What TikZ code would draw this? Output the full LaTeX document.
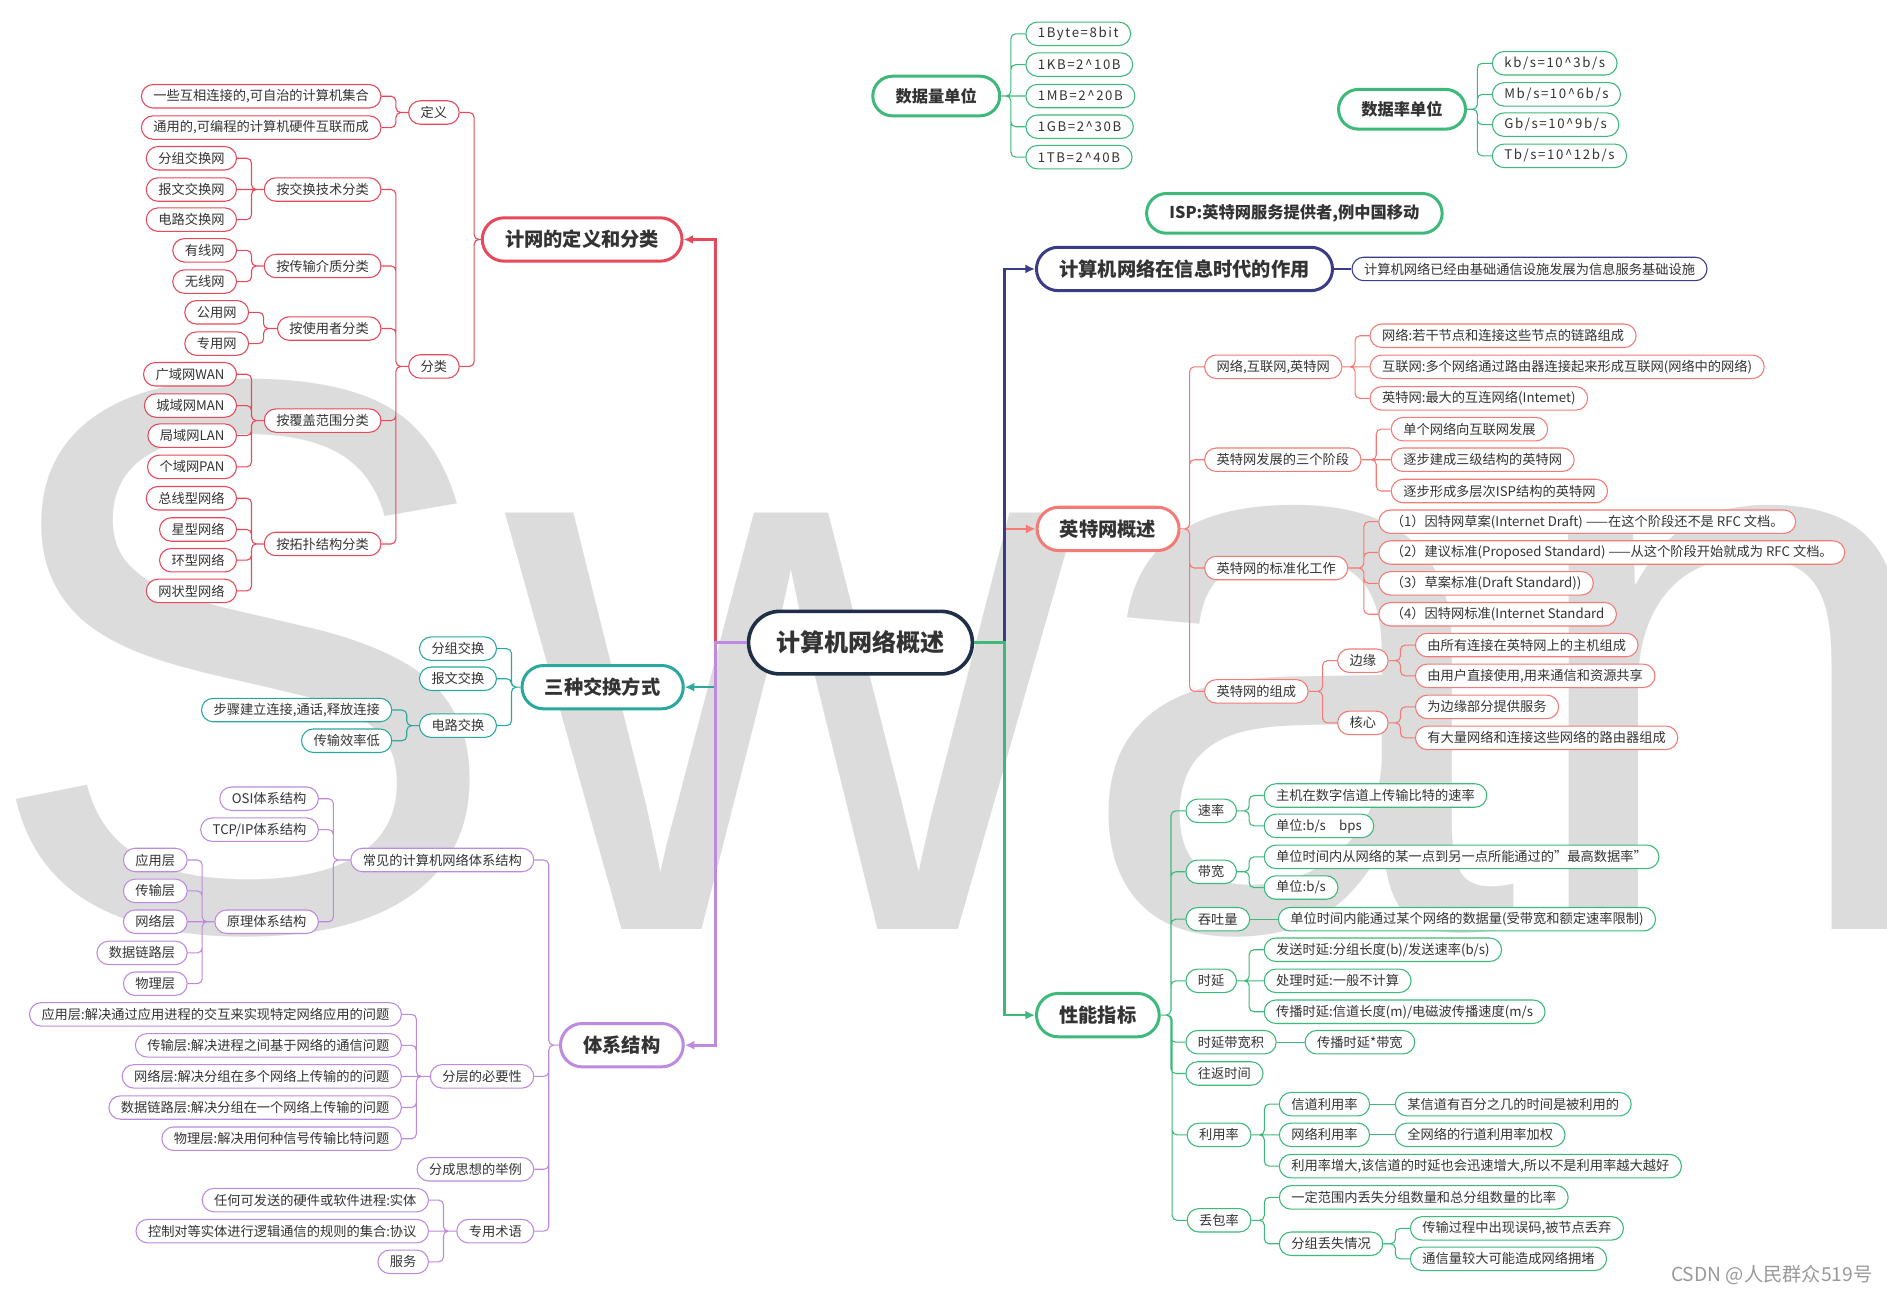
\documentclass[tikz,border=0pt]{standalone}
\usepackage{fontspec}
\setmainfont{Noto Sans CJK SC}
\newfontfamily\wmfont{Liberation Sans}
\usetikzlibrary{arrows.meta}

\definecolor{txt}{HTML}{333333}
\definecolor{rootc}{HTML}{1F2F46}
\definecolor{redc}{HTML}{E5495A}
\definecolor{tealc}{HTML}{2AA89C}
\definecolor{purc}{HTML}{BE8AE0}
\definecolor{navyc}{HTML}{3A3D86}
\definecolor{salc}{HTML}{F47A76}
\definecolor{grnc}{HTML}{3DB97A}
\definecolor{wmc}{HTML}{DCDCDC}

\begin{document}
\begin{tikzpicture}[x=1pt, y=-1pt,
    root/.style={draw=rootc, line width=3pt, fill=white, rounded corners=26pt,
      minimum height=52pt, inner xsep=23pt, inner ysep=0pt, text=txt,
      font=\bfseries\fontsize{20}{20}\selectfont},
    topic/.style={draw=#1, line width=2.5pt, fill=white, rounded corners=18pt,
      minimum height=36pt, inner xsep=19pt, inner ysep=0pt, text=txt,
      font=\bfseries\fontsize{16}{16}\selectfont},
    unit/.style={topic=grnc, rounded corners=16.5pt, minimum height=33pt,
      font=\bfseries\fontsize{13.5}{13.5}\selectfont},
    leaf/.style={draw=#1, line width=0.9pt, fill=white, rounded corners=9.75pt,
      minimum height=19.5pt, inner xsep=10pt, inner ysep=0pt, text=txt,
      font=\fontsize{11}{11}\selectfont},
    unitleaf/.style={leaf=grnc, font=\fontsize{11}{11}\selectfont\addfontfeature{LetterSpace=12}},
    br/.style={draw=#1, line width=2.2pt, -{Latex[length=8pt,width=7.5pt]}},
    lnk/.style={draw=#1, line width=0.9pt, rounded corners=4pt},
    lt/.style={to path={-| ([xshift=12pt]\tikztotarget) -- (\tikztotarget)}},
    rt/.style={to path={-| ([xshift=-12pt]\tikztotarget) -- (\tikztotarget)}}]

\useasboundingbox (0,0) rectangle (1568,1075);
\clip (0,0) rectangle (1568,1075);
\fill[white] (0,0) rectangle (1568,1075);

% watermarks
\node[anchor=base west, inner sep=0pt, text=wmc,
  font=\wmfont\fontsize{655}{655}\selectfont] (wm) at (-16,772) {Swan};
\node[anchor=east, inner sep=0pt, text=black!40,
  font=\fontsize{16}{16}\selectfont] (csdn) at (1556,1059.5) {CSDN @人民群众519号};

% centre
\node[root] (root) at (715,534) {计算机网络概述};

% definition and classes
\node[topic=redc, anchor=east] (defcls) at (568,199) {计网的定义和分类};
\node[leaf=redc, anchor=east] (define) at (382,93.5) {定义};
\node[leaf=redc, anchor=east] (classify) at (382,304.5) {分类};
\node[leaf=redc, anchor=east] (def1) at (317,80) {一些互相连接的,可自治的计算机集合};
\node[leaf=redc, anchor=east] (def2) at (317,106) {通用的,可编程的计算机硬件互联而成};
\node[leaf=redc, anchor=east] (bysw) at (317,157.5) {按交换技术分类};
\node[leaf=redc, anchor=east] (sw1) at (197,131.5) {分组交换网};
\node[leaf=redc, anchor=east] (sw2) at (197,157.5) {报文交换网};
\node[leaf=redc, anchor=east] (sw3) at (197,182.5) {电路交换网};
\node[leaf=redc, anchor=east] (bymd) at (317,221) {按传输介质分类};
\node[leaf=redc, anchor=east] (md1) at (197,208) {有线网};
\node[leaf=redc, anchor=east] (md2) at (197,234) {无线网};
\node[leaf=redc, anchor=east] (byus) at (317,273) {按使用者分类};
\node[leaf=redc, anchor=east] (us1) at (207,259.5) {公用网};
\node[leaf=redc, anchor=east] (us2) at (207,285.5) {专用网};
\node[leaf=redc, anchor=east] (bycv) at (317,349.5) {按覆盖范围分类};
\node[leaf=redc, anchor=east] (cv1) at (197,311) {广域网WAN};
\node[leaf=redc, anchor=east] (cv2) at (197,337) {城域网MAN};
\node[leaf=redc, anchor=east] (cv3) at (197,362) {局域网LAN};
\node[leaf=redc, anchor=east] (cv4) at (197,388) {个域网PAN};
\node[leaf=redc, anchor=east] (bytp) at (317,452) {按拓扑结构分类};
\node[leaf=redc, anchor=east] (tp1) at (197,414) {总线型网络};
\node[leaf=redc, anchor=east] (tp2) at (197,440) {星型网络};
\node[leaf=redc, anchor=east] (tp3) at (197,465.5) {环型网络};
\node[leaf=redc, anchor=east] (tp4) at (197,491) {网状型网络};

% switching
\node[topic=tealc, anchor=east] (switch) at (569,571) {三种交换方式};
\node[leaf=tealc, anchor=east] (pkt) at (413,539) {分组交换};
\node[leaf=tealc, anchor=east] (msg) at (413,564) {报文交换};
\node[leaf=tealc, anchor=east] (cir) at (413,603) {电路交换};
\node[leaf=tealc, anchor=east] (cir1) at (326,590) {步骤建立连接,通话,释放连接};
\node[leaf=tealc, anchor=east] (cir2) at (326,615.5) {传输效率低};

% architecture
\node[topic=purc, anchor=east] (arch) at (569,868.5) {体系结构};
\node[leaf=purc, anchor=east] (common) at (444,714.6) {常见的计算机网络体系结构};
\node[leaf=purc, anchor=east] (osi) at (265,663.7) {OSI体系结构};
\node[leaf=purc, anchor=east] (tcpip) at (265,689.4) {TCP/IP体系结构};
\node[leaf=purc, anchor=east] (theory) at (265,765.9) {原理体系结构};
\node[leaf=purc, anchor=east] (ly1) at (156,714.6) {应用层};
\node[leaf=purc, anchor=east] (ly2) at (156,740.3) {传输层};
\node[leaf=purc, anchor=east] (ly3) at (156,765.9) {网络层};
\node[leaf=purc, anchor=east] (ly4) at (156,791.8) {数据链路层};
\node[leaf=purc, anchor=east] (ly5) at (156,817.4) {物理层};
\node[leaf=purc, anchor=east] (layer) at (444,894.4) {分层的必要性};
\node[leaf=purc, anchor=east] (layer1) at (334,842.9) {应用层:解决通过应用进程的交互来实现特定网络应用的问题};
\node[leaf=purc, anchor=east] (layer2) at (334,868.6) {传输层:解决进程之间基于网络的通信问题};
\node[leaf=purc, anchor=east] (layer3) at (334,894.4) {网络层:解决分组在多个网络上传输的的问题};
\node[leaf=purc, anchor=east] (layer4) at (334,920.3) {数据链路层:解决分组在一个网络上传输的问题};
\node[leaf=purc, anchor=east] (layer5) at (334,946.2) {物理层:解决用何种信号传输比特问题};
\node[leaf=purc, anchor=east] (idea) at (444,971.6) {分成思想的举例};
\node[leaf=purc, anchor=east] (term) at (444,1023) {专用术语};
\node[leaf=purc, anchor=east] (term1) at (356.5,997.2) {任何可发送的硬件或软件进程:实体};
\node[leaf=purc, anchor=east] (term2) at (356.5,1023) {控制对等实体进行逻辑通信的规则的集合:协议};
\node[leaf=purc, anchor=east] (term3) at (356.5,1048.5) {服务};

% units and isp
\node[unit, anchor=west] (dsize) at (724,79.8) {数据量单位};
\node[unitleaf, anchor=west] (dsize1) at (852,28.1) {1Byte=8bit};
\node[unitleaf, anchor=west] (dsize2) at (852,53.7) {1KB=2\textasciicircum10B};
\node[unitleaf, anchor=west] (dsize3) at (852,79.8) {1MB=2\textasciicircum20B};
\node[unitleaf, anchor=west] (dsize4) at (852,105.3) {1GB=2\textasciicircum30B};
\node[unitleaf, anchor=west] (dsize5) at (852,130.6) {1TB=2\textasciicircum40B};
\node[unit, anchor=west] (drate) at (1111,90.8) {数据率单位};
\node[unitleaf, anchor=west] (drate1) at (1239.6,52.6) {kb/s=10\textasciicircum3b/s};
\node[unitleaf, anchor=west] (drate2) at (1239.6,78.4) {Mb/s=10\textasciicircum6b/s};
\node[unitleaf, anchor=west] (drate3) at (1239.6,103.6) {Gb/s=10\textasciicircum9b/s};
\node[unitleaf, anchor=west] (drate4) at (1239.6,129.5) {Tb/s=10\textasciicircum12b/s};
\node[unit, anchor=west] (isp) at (951.5,177.3) {ISP:英特网服务提供者,例中国移动};

% role
\node[topic=navyc, anchor=west] (role) at (860,223.5) {计算机网络在信息时代的作用};
\node[leaf=navyc, anchor=west] (role1) at (1123,223.5) {计算机网络已经由基础通信设施发展为信息服务基础设施};

% internet overview
\node[topic=salc, anchor=west] (inet) at (860.5,439.5) {英特网概述};
\node[leaf=salc, anchor=west] (nets) at (1000.5,304.8) {网络,互联网,英特网};
\node[leaf=salc, anchor=west] (nets1) at (1138,279) {网络:若干节点和连接这些节点的链路组成};
\node[leaf=salc, anchor=west] (nets2) at (1138,304.8) {互联网:多个网络通过路由器连接起来形成互联网(网络中的网络)};
\node[leaf=salc, anchor=west] (nets3) at (1138,331) {英特网:最大的互连网络(Intemet)};
\node[leaf=salc, anchor=west] (stage) at (1000.5,382) {英特网发展的三个阶段};
\node[leaf=salc, anchor=west] (stage1) at (1155.6,356.6) {单个网络向互联网发展};
\node[leaf=salc, anchor=west] (stage2) at (1155.6,382) {逐步建成三级结构的英特网};
\node[leaf=salc, anchor=west] (stage3) at (1155.6,408) {逐步形成多层次ISP结构的英特网};
\node[leaf=salc, anchor=west] (std) at (1000.5,472) {英特网的标准化工作};
\node[leaf=salc, anchor=west] (std1) at (1145.3,433.5) {（1）因特网草案(Internet Draft) ——在这个阶段还不是 RFC 文档。};
\node[leaf=salc, anchor=west] (std2) at (1145.3,459.1) {（2）建议标准(Proposed Standard) ——从这个阶段开始就成为 RFC 文档。};
\node[leaf=salc, anchor=west] (std3) at (1145.3,484.7) {（3）草案标准(Draft Standard))};
\node[leaf=salc, anchor=west] (std4) at (1145.3,510.4) {（4）因特网标准(Internet Standard};
\node[leaf=salc, anchor=west] (comp) at (1000.5,574.5) {英特网的组成};
\node[leaf=salc, anchor=west] (edge) at (1111,549) {边缘};
\node[leaf=salc, anchor=west] (core) at (1111,600.7) {核心};
\node[leaf=salc, anchor=west] (edge1) at (1175.7,536) {由所有连接在英特网上的主机组成};
\node[leaf=salc, anchor=west] (edge2) at (1175.7,561.6) {由用户直接使用,用来通信和资源共享};
\node[leaf=salc, anchor=west] (core1) at (1175.7,587.4) {为边缘部分提供服务};
\node[leaf=salc, anchor=west] (core2) at (1175.7,613.1) {有大量网络和连接这些网络的路由器组成};

% performance
\node[topic=grnc, anchor=west] (perf) at (860,843.5) {性能指标};
\node[leaf=grnc, anchor=west] (rate) at (985,673.8) {速率};
\node[leaf=grnc, anchor=west] (rate1) at (1050,661) {主机在数字信道上传输比特的速率};
\node[leaf=grnc, anchor=west] (rate2) at (1050,686.3) {单位:b/s\quad bps};
\node[leaf=grnc, anchor=west] (bw) at (985,724.4) {带宽};
\node[leaf=grnc, anchor=west] (bw1) at (1050,712) {单位时间内从网络的某一点到另一点所能通过的"最高数据率"};
\node[leaf=grnc, anchor=west] (bw2) at (1050,737.5) {单位:b/s};
\node[leaf=grnc, anchor=west] (thru) at (985,763.8) {吞吐量};
\node[leaf=grnc, anchor=west] (thru1) at (1061.8,763.8) {单位时间内能通过某个网络的数据量(受带宽和额定速率限制)};
\node[leaf=grnc, anchor=west] (delay) at (985,815) {时延};
\node[leaf=grnc, anchor=west] (delay1) at (1050,789.2) {发送时延:分组长度(b)/发送速率(b/s)};
\node[leaf=grnc, anchor=west] (delay2) at (1050,815) {处理时延:一般不计算};
\node[leaf=grnc, anchor=west] (delay3) at (1050,840.7) {传播时延:信道长度(m)/电磁波传播速度(m/s};
\node[leaf=grnc, anchor=west] (dbp) at (985,866) {时延带宽积};
\node[leaf=grnc, anchor=west] (dbp1) at (1084,866) {传播时延*带宽};
\node[leaf=grnc, anchor=west] (rtt) at (985,892) {往返时间};
\node[leaf=grnc, anchor=west] (util) at (986,943) {利用率};
\node[leaf=grnc, anchor=west] (util1) at (1062.6,917.5) {信道利用率};
\node[leaf=grnc, anchor=west] (util1a) at (1159,917.5) {某信道有百分之几的时间是被利用的};
\node[leaf=grnc, anchor=west] (util2) at (1062.6,943) {网络利用率};
\node[leaf=grnc, anchor=west] (util2a) at (1159,943) {全网络的行道利用率加权};
\node[leaf=grnc, anchor=west] (util3) at (1062.6,969) {利用率增大,该信道的时延也会迅速增大,所以不是利用率越大越好};
\node[leaf=grnc, anchor=west] (loss) at (986,1014) {丢包率};
\node[leaf=grnc, anchor=west] (loss1) at (1062.6,995) {一定范围内丢失分组数量和总分组数量的比率};
\node[leaf=grnc, anchor=west] (loss2) at (1062.6,1033.5) {分组丢失情况};
\node[leaf=grnc, anchor=west] (loss2a) at (1171.5,1020.7) {传输过程中出现误码,被节点丢弃};
\node[leaf=grnc, anchor=west] (loss2b) at (1171.5,1046) {通信量较大可能造成网络拥堵};

% main branches
\draw[br=redc] (root.west) -- ++(-26pt,0) |- (defcls.east);
\draw[br=tealc] (root.west) -- ++(-26pt,0) |- (switch.east);
\draw[br=purc] (root.west) -- ++(-26pt,0) |- (arch.east);
\draw[br=salc] (root.east) -- ++(25pt,0) |- (inet.west);
\draw[br=navyc] (root.east) -- ++(25pt,0) |- (role.west);
\draw[br=grnc] (root.east) -- ++(25pt,0) |- (perf.west);

% left sub branches
\draw[lnk=redc] (defcls.west) to[lt] (define.east) (defcls.west) to[lt] (classify.east);
\draw[lnk=redc] (define.west) to[lt] (def1.east) (define.west) to[lt] (def2.east);
\draw[lnk=redc] (classify.west) to[lt] (bysw.east) (classify.west) to[lt] (bymd.east)
  (classify.west) to[lt] (byus.east) (classify.west) to[lt] (bycv.east)
  (classify.west) to[lt] (bytp.east);
\draw[lnk=redc] (bysw.west) to[lt] (sw1.east) (bysw.west) -- (sw2.east) (bysw.west) to[lt] (sw3.east);
\draw[lnk=redc] (bymd.west) to[lt] (md1.east) (bymd.west) to[lt] (md2.east);
\draw[lnk=redc] (byus.west) to[lt] (us1.east) (byus.west) to[lt] (us2.east);
\draw[lnk=redc] (bycv.west) to[lt] (cv1.east) (bycv.west) to[lt] (cv2.east)
  (bycv.west) to[lt] (cv3.east) (bycv.west) to[lt] (cv4.east);
\draw[lnk=redc] (bytp.west) to[lt] (tp1.east) (bytp.west) to[lt] (tp2.east)
  (bytp.west) to[lt] (tp3.east) (bytp.west) to[lt] (tp4.east);

\draw[lnk=tealc] (switch.west) to[lt] (pkt.east) (switch.west) to[lt] (msg.east)
  (switch.west) to[lt] (cir.east);
\draw[lnk=tealc] (cir.west) to[lt] (cir1.east) (cir.west) to[lt] (cir2.east);

\draw[lnk=purc] (arch.west) to[lt] (common.east) (arch.west) to[lt] (layer.east)
  (arch.west) to[lt] (idea.east) (arch.west) to[lt] (term.east);
\draw[lnk=purc] (common.west) to[lt] (osi.east) (common.west) to[lt] (tcpip.east)
  (common.west) to[lt] (theory.east);
\draw[lnk=purc] (theory.west) to[lt] (ly1.east) (theory.west) to[lt] (ly2.east)
  (theory.west) -- (ly3.east) (theory.west) to[lt] (ly4.east) (theory.west) to[lt] (ly5.east);
\draw[lnk=purc] (layer.west) to[lt] (layer1.east) (layer.west) to[lt] (layer2.east)
  (layer.west) -- (layer3.east) (layer.west) to[lt] (layer4.east) (layer.west) to[lt] (layer5.east);
\draw[lnk=purc] (term.west) to[lt] (term1.east) (term.west) -- (term2.east)
  (term.west) to[lt] (term3.east);

% right sub branches
\draw[lnk=grnc] (dsize.east) to[rt] (dsize1.west) (dsize.east) to[rt] (dsize2.west)
  (dsize.east) -- (dsize3.west) (dsize.east) to[rt] (dsize4.west) (dsize.east) to[rt] (dsize5.west);
\draw[lnk=grnc] (drate.east) to[rt] (drate1.west) (drate.east) to[rt] (drate2.west)
  (drate.east) to[rt] (drate3.west) (drate.east) to[rt] (drate4.west);
\draw[lnk=navyc] (role.east) -- (role1.west);

\draw[lnk=salc] (inet.east) to[rt] (nets.west) (inet.east) to[rt] (stage.west)
  (inet.east) to[rt] (std.west) (inet.east) to[rt] (comp.west);
\draw[lnk=salc] (nets.east) to[rt] (nets1.west) (nets.east) -- (nets2.west) (nets.east) to[rt] (nets3.west);
\draw[lnk=salc] (stage.east) to[rt] (stage1.west) (stage.east) -- (stage2.west) (stage.east) to[rt] (stage3.west);
\draw[lnk=salc] (std.east) to[rt] (std1.west) (std.east) to[rt] (std2.west)
  (std.east) to[rt] (std3.west) (std.east) to[rt] (std4.west);
\draw[lnk=salc] (comp.east) to[rt] (edge.west) (comp.east) to[rt] (core.west);
\draw[lnk=salc] (edge.east) to[rt] (edge1.west) (edge.east) to[rt] (edge2.west);
\draw[lnk=salc] (core.east) to[rt] (core1.west) (core.east) to[rt] (core2.west);

\draw[lnk=grnc] (perf.east) to[rt] (rate.west) (perf.east) to[rt] (bw.west)
  (perf.east) to[rt] (thru.west) (perf.east) to[rt] (delay.west) (perf.east) to[rt] (dbp.west)
  (perf.east) to[rt] (rtt.west) (perf.east) to[rt] (util.west) (perf.east) to[rt] (loss.west);
\draw[lnk=grnc] (rate.east) to[rt] (rate1.west) (rate.east) to[rt] (rate2.west);
\draw[lnk=grnc] (bw.east) to[rt] (bw1.west) (bw.east) to[rt] (bw2.west);
\draw[lnk=grnc] (thru.east) -- (thru1.west);
\draw[lnk=grnc] (delay.east) to[rt] (delay1.west) (delay.east) -- (delay2.west) (delay.east) to[rt] (delay3.west);
\draw[lnk=grnc] (dbp.east) -- (dbp1.west);
\draw[lnk=grnc] (util.east) to[rt] (util1.west) (util.east) -- (util2.west) (util.east) to[rt] (util3.west);
\draw[lnk=grnc] (util1.east) -- (util1a.west);
\draw[lnk=grnc] (util2.east) -- (util2a.west);
\draw[lnk=grnc] (loss.east) to[rt] (loss1.west) (loss.east) to[rt] (loss2.west);
\draw[lnk=grnc] (loss2.east) to[rt] (loss2a.west) (loss2.east) to[rt] (loss2b.west);
\end{tikzpicture}
\end{document}
